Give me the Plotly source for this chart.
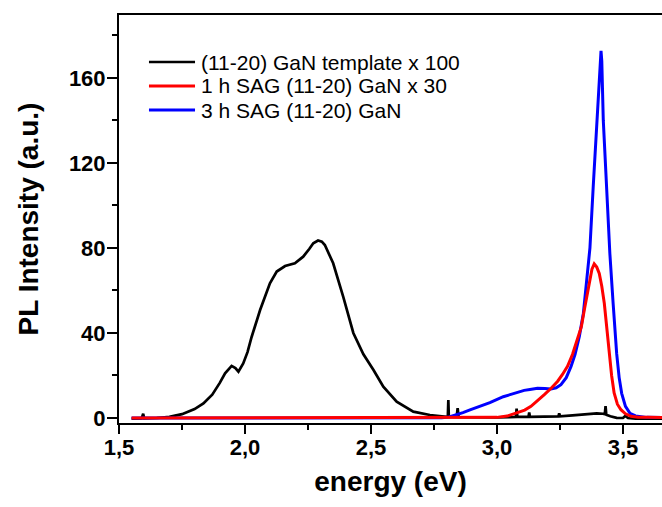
import plotly.graph_objects as go

# ---- data ----
black_name = "(11-20) GaN template x 100"
red_name = "1 h SAG (11-20) GaN x 30"
blue_name = "3 h SAG (11-20) GaN"

black_E = [1.55, 1.59, 1.596, 1.60, 1.65, 1.70, 1.75, 1.80, 1.835, 1.87, 1.90, 1.921, 1.947, 1.962,
           1.974, 1.993, 2.01, 2.026, 2.06, 2.099, 2.126, 2.159, 2.198, 2.231, 2.255, 2.271, 2.29,
           2.305, 2.317, 2.335, 2.35, 2.39, 2.43, 2.47, 2.51, 2.549, 2.602, 2.668, 2.734, 2.80,
           2.805, 2.807, 2.809, 2.84, 2.844, 2.848, 2.90, 2.95, 3.0, 3.05, 3.075, 3.078, 3.081,
           3.125, 3.128, 3.131, 3.2, 3.244, 3.247, 3.25, 3.3, 3.35, 3.396, 3.42, 3.428, 3.431,
           3.434, 3.45, 3.475, 3.5, 3.51, 3.52, 3.55, 3.6, 3.655]
black_I = [-0.3, -0.2, 2.0, -0.2, 0.0, 0.5, 1.8, 4.2, 6.9, 11.0, 16.5, 21.0, 24.5, 23.5,
           21.8, 25.7, 31.0, 38.0, 50.8, 63.4, 68.9, 71.5, 72.8, 75.9, 79.5, 82.2, 83.5,
           83.0, 81.4, 77.0, 72.8, 57.0, 40.0, 30.0, 22.6, 14.7, 7.7, 3.0, 1.4, 0.6,
           0.5, 8.5, 0.5, 0.4, 4.6, 0.4, 0.3, 0.2, 0.3, 0.4, 0.5, 4.4, 0.5,
           0.5, 2.6, 0.5, 0.6, 0.8, 2.2, 0.8, 1.2, 1.8, 2.2, 2.0, 1.8, 5.6,
           1.5, 0.8, 0.1, 0.0, 1.0, 0.0, -0.3, -0.3, -0.3]

red_E = [1.55, 1.8, 2.0, 2.3, 2.6, 2.8, 2.9, 2.95, 3.0, 3.04, 3.08, 3.11, 3.135, 3.16, 3.188,
         3.215, 3.241, 3.26, 3.28, 3.30, 3.32, 3.335, 3.347, 3.357, 3.367, 3.377, 3.386, 3.396,
         3.406, 3.416, 3.426, 3.436, 3.446, 3.455, 3.465, 3.478, 3.492, 3.51, 3.532, 3.56, 3.6, 3.655]
red_I = [0, 0, 0, 0, 0, 0, 0.05, 0.1, 0.3, 0.9, 2.3, 3.7, 5.5, 8.0, 11.0,
         14.0, 17.3, 20.5, 24.3, 30.0, 36.9, 43.0, 51.0, 58.0, 65.0, 70.0, 72.5, 71.0,
         68.0, 62.0, 54.0, 42.0, 30.6, 20.0, 11.8, 6.5, 3.9, 2.0, 0.8, 0.4, 0.3, 0.2]

blue_E = [1.55, 1.8, 2.0, 2.4, 2.7, 2.78, 2.81, 2.84, 2.865, 2.893, 2.932, 2.972, 3.025, 3.078,
          3.108, 3.131, 3.161, 3.19, 3.214, 3.235, 3.254, 3.275, 3.294, 3.31, 3.327, 3.343, 3.353,
          3.369, 3.382, 3.396, 3.406, 3.411, 3.413, 3.416, 3.422, 3.435, 3.448, 3.461, 3.475, 3.485,
          3.495, 3.51, 3.528, 3.55, 3.594, 3.655]
blue_I = [0, 0, 0, 0, 0, 0.1, 0.5, 1.4, 2.5, 3.8, 5.3, 7.2, 10.0, 12.1,
          13.0, 13.4, 14.0, 13.9, 13.6, 14.2, 15.7, 19.0, 24.3, 30.0, 38.4, 49.3, 60.0,
          80.0, 108.8, 140.0, 162.0, 170.0, 172.7, 168.0, 140.0, 108.8, 77.5, 54.0, 30.4, 19.0,
          11.6, 5.5, 2.2, 1.0, 0.3, 0.2]

x_ticks = [1.5, 2.0, 2.5, 3.0, 3.5]
x_ticktext = ["1,5", "2,0", "2,5", "3,0", "3,5"]
y_ticks = [0, 40, 80, 120, 160]

FONT = "Liberation Sans, Arial, sans-serif"

series = [  # (name, E, I, colour, width) in legend order
    (black_name, black_E, black_I, "#000000", 2.7),
    (red_name, red_E, red_I, "#FF0000", 3),
    (blue_name, blue_E, blue_I, "#0000FF", 3),
]
draw_order = [0, 2, 1]

fig = go.Figure()
for i in draw_order:
    name, xs, ys, col, w = series[i]
    fig.add_trace(go.Scatter(x=xs, y=ys, mode="lines", name=name,
                             line=dict(color=col, width=w), showlegend=False))

# legend drawn as line samples + text (matches the long sample lines of the original)
leg_x0, leg_x1, leg_tx = 0.0552, 0.140, 0.147
leg_y = [0.8848, 0.826, 0.767]
for (name, _, _, col, w), yy in zip(series, leg_y):
    fig.add_shape(type="line", xref="paper", yref="paper", x0=leg_x0, x1=leg_x1, y0=yy, y1=yy,
                  line=dict(color=col, width=w))
    fig.add_annotation(xref="paper", yref="paper", x=leg_tx, y=yy, text=name, showarrow=False,
                       xanchor="left", yanchor="middle",
                       font=dict(family=FONT, size=21, color="black"))

fig.update_layout(
    width=662, height=507,
    margin=dict(l=119, r=0, t=15, b=84),
    paper_bgcolor="white", plot_bgcolor="white",
    font=dict(family=FONT, color="black"),
    showlegend=False,
    xaxis=dict(
        range=[1.5, 3.655], tickmode="array", tickvals=x_ticks, ticktext=x_ticktext,
        ticks="outside", ticklen=9, tickwidth=2, tickcolor="black",
        minor=dict(dtick=0.25, tick0=1.5, ticks="outside", ticklen=5, tickwidth=2, tickcolor="black"),
        showline=True, linecolor="black", linewidth=2, mirror=True,
        showgrid=False, zeroline=False, ticklabelstandoff=-5,
        tickfont=dict(family=FONT, size=22, weight="bold", color="black"),
        title=dict(text="energy (eV)", standoff=12,
                   font=dict(family=FONT, size=28, weight="bold", color="black")),
    ),
    yaxis=dict(
        range=[-2.35, 189.6], tickmode="array", tickvals=y_ticks,
        ticks="outside", ticklen=10, tickwidth=2, tickcolor="black",
        minor=dict(dtick=20, tick0=0, ticks="outside", ticklen=5, tickwidth=2, tickcolor="black"),
        showline=True, linecolor="black", linewidth=2, mirror=False,
        showgrid=False, zeroline=False, ticklabelstandoff=-3,
        tickfont=dict(family=FONT, size=22, weight="bold", color="black"),
        title=dict(text="PL Intensity (a.u.)", standoff=22,
                   font=dict(family=FONT, size=28, weight="bold", color="black")),
    ),
)

fig.write_html("out.html")
